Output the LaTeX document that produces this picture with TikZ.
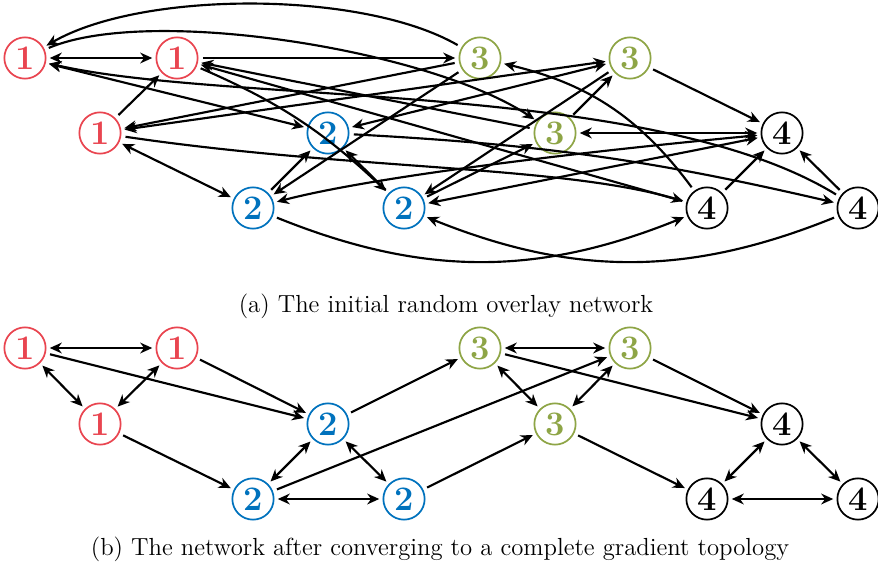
\documentclass[tikz,border=0pt]{standalone}
\usetikzlibrary{arrows.meta}
\definecolor{nred}{RGB}{233,69,80}
\definecolor{nblue}{RGB}{0,114,189}
\definecolor{ngreen}{RGB}{142,165,70}
\begin{document}
\begin{tikzpicture}[x=0.465pt,y=-0.465pt,
  peer/.style={circle,draw,line width=0.8pt,minimum size=19.2pt,inner sep=0pt,font=\fontsize{16}{18}\selectfont\bfseries},
  gone/.style={peer,draw=nred,text=nred},
  gtwo/.style={peer,draw=nblue,text=nblue},
  gthree/.style={peer,draw=ngreen,text=ngreen},
  gfour/.style={peer,draw=black,text=black},
  tip/.tip={Stealth[length=5.6pt,width=5pt,inset=1.8pt]},
  link/.style={line width=1pt,-tip,shorten >=1.5pt,shorten <=2pt},
  dlink/.style={line width=1pt,tip-tip,shorten >=1.5pt,shorten <=1.5pt},
  captext/.style={font=\fontsize{11.5}{13.8}\selectfont}
]
\useasboundingbox (0,0) rectangle (878,568);
% ---------- (a) ----------
\node[gone]   (ta1) at (25,58)  {1};
\node[gone]   (ta2) at (177,58) {1};
\node[gone]   (ta3) at (100,133) {1};
\node[gtwo]   (tb1) at (328,133) {2};
\node[gtwo]   (tb2) at (253,208) {2};
\node[gtwo]   (tb3) at (404,208) {2};
\node[gthree] (tc1) at (480,58) {3};
\node[gthree] (tc2) at (630,58) {3};
\node[gthree] (tc3) at (555,133) {3};
\node[gfour]  (td1) at (782,133) {4};
\node[gfour]  (td2) at (707,208) {4};
\node[gfour]  (td3) at (858,208) {4};

\draw[dlink] (ta1) -- (ta2);
\draw[link] (ta2) -- (tc1);
\draw[link] (tc1) to[out=150,in=30,looseness=0.7] (ta1);
\draw[link] (ta1) .. controls (150,5) and (430,50) .. (tc3);
\draw[dlink] (ta1) -- (tb1);
\draw[link] (td3) .. controls (650,80) and (230,105) .. (ta1);
\draw[link] (tc1) -- (ta3);
\draw[dlink] (ta3) -- (tc2);
\draw[dlink] (tb1) -- (tc2);
\draw[link] (ta3) -- (ta2);
\draw[dlink] (ta3) -- (tb2);
\draw[link] (ta3) .. controls (350,170) and (560,165) .. (td2);
\draw[link] (ta2) to[bend left=10] (tb3);
\draw[link] (tc1) -- (tb2);
\draw[link] (tb2) -- (tb1);
\draw[link] (tb3) -- (tb1);
\draw[link] (tb1) to[bend left=5] (td3);
\draw[link] (td2) -- (ta2);
\draw[link] (tc3) -- (ta2);
\draw[link] (tc2) -- (tb3);
\draw[link] (tb3) -- (tc3);
\draw[link] (tc3) -- (tc2);
\draw[dlink] (tb2) .. controls (380,175) and (600,150) .. (td1);
\draw[dlink] (tb3) -- (td1);
\draw[link] (tb2) to[out=-22,in=-158] (td2);
\draw[link] (td3) to[out=-158,in=-22] (tb3);
\draw[link] (td2) -- (td1);
\draw[link] (td3) -- (td1);
\draw[link] (tc2) -- (td1);
\draw[dlink] (tc3) -- (td1);
\draw[link] (td2) to[bend right=20] (tc1);

\node[captext] (capa) at (446,306) {(a) The initial random overlay network};

% ---------- (b) ----------
\node[gone]   (ba1) at (25,348)  {1};
\node[gone]   (ba2) at (177,348) {1};
\node[gone]   (ba3) at (100,424) {1};
\node[gtwo]   (bb1) at (328,424) {2};
\node[gtwo]   (bb2) at (253,499) {2};
\node[gtwo]   (bb3) at (404,499) {2};
\node[gthree] (bc1) at (480,348) {3};
\node[gthree] (bc2) at (630,348) {3};
\node[gthree] (bc3) at (555,424) {3};
\node[gfour]  (bd1) at (782,424) {4};
\node[gfour]  (bd2) at (707,499) {4};
\node[gfour]  (bd3) at (858,499) {4};

\draw[dlink] (ba1) -- (ba2);
\draw[dlink] (ba1) -- (ba3);
\draw[dlink] (ba2) -- (ba3);
\draw[link] (ba1) -- (bb1);
\draw[link] (ba2) -- (bb1);
\draw[link] (ba3) -- (bb2);
\draw[dlink] (bb1) -- (bb2);
\draw[dlink] (bb1) -- (bb3);
\draw[dlink] (bb2) -- (bb3);
\draw[link] (bb1) -- (bc1);
\draw[link] (bb2) -- (bc2);
\draw[link] (bb3) -- (bc3);
\draw[dlink] (bc1) -- (bc2);
\draw[dlink] (bc1) -- (bc3);
\draw[dlink] (bc2) -- (bc3);
\draw[link] (bc1) -- (bd1);
\draw[link] (bc2) -- (bd1);
\draw[link] (bc3) -- (bd2);
\draw[dlink] (bd1) -- (bd2);
\draw[dlink] (bd1) -- (bd3);
\draw[dlink] (bd2) -- (bd3);

\node[captext] (capb) at (440,549) {(b) The network after converging to a complete gradient topology};
\end{tikzpicture}
\end{document}
